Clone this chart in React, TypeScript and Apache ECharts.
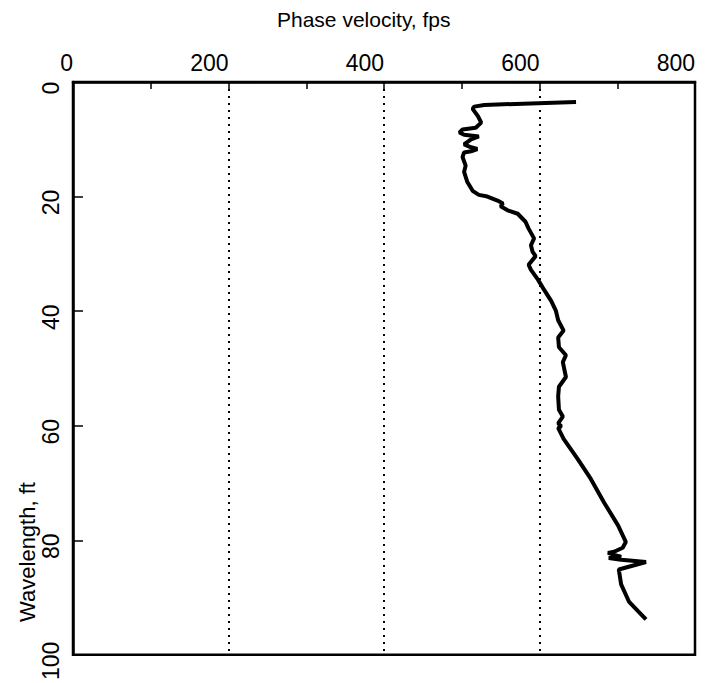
import React, { useEffect, useRef } from "react";
import * as echarts from "echarts";

// Dispersion curve: phase velocity (fps) against wavelength (ft)
const velocityFps: number[] = [
  647, 529, 516, 514, 521, 525, 518, 501, 497, 503, 522, 512, 503, 512, 520, 512,
  503, 501, 505, 503, 507, 514, 522, 533, 546, 553, 550, 559, 572, 582, 586, 593,
  589, 591, 595, 586, 589, 598, 606, 615, 621, 624, 631, 624, 625, 634, 630, 634,
  625, 624, 625, 630, 624, 628, 624, 631, 649, 666, 683, 701, 711, 707, 696, 688,
  705, 689, 705, 737, 702, 705, 715, 727, 737,
];
const wavelengthFt: number[] = [
  3.5, 4.0, 4.3, 4.7, 6.0, 7.1, 8.0, 8.3, 8.8, 9.2, 9.5, 10.0, 10.9, 11.4, 11.7, 12.1,
  12.3, 13.1, 14.6, 15.7, 17.4, 19.0, 19.7, 20.0, 20.7, 21.2, 21.7, 22.4, 23.0, 24.4, 25.6, 27.3,
  28.5, 29.6, 30.4, 31.9, 32.8, 34.5, 36.3, 38.2, 39.9, 41.6, 43.4, 44.6, 46.3, 47.7, 48.9, 51.5,
  53.2, 54.9, 57.2, 58.4, 59.6, 60.1, 60.4, 62.3, 65.8, 69.3, 73.4, 77.4, 80.3, 81.3, 82.0, 82.2,
  82.9, 83.1, 83.4, 83.8, 85.1, 87.7, 90.7, 92.4, 93.8,
];

const xTitle = "Phase velocity, fps";
const yTitle = "Wavelength, ft";
const xRange = [0, 800];
const xStep = 200;
const yRange = [0, 100];
const yStep = 20;

const FONT = "'Liberation Sans', Arial, Helvetica, sans-serif";

export default function App() {
  const ref = useRef<HTMLDivElement>(null);

  useEffect(() => {
    if (!ref.current) return;
    const chart = echarts.init(ref.current, undefined, { renderer: "svg" });
    const points = velocityFps.map((v, i) => [v, wavelengthFt[i]]);

    chart.setOption({
      animation: false,
      backgroundColor: "#fff",
      grid: {
        left: 73,
        top: 82,
        right: 10,
        bottom: 22,
        show: true,
        borderColor: "#000",
        borderWidth: 2.5,
        backgroundColor: "transparent",
      },
      xAxis: {
        type: "value",
        position: "top",
        min: xRange[0],
        max: xRange[1],
        interval: xStep,
        axisLine: { show: true, lineStyle: { color: "#000", width: 2.5 } },
        axisTick: { show: true, inside: true, length: 9, lineStyle: { color: "#000", width: 1.5 } },
        minorTick: { show: true, splitNumber: 2, length: 7, lineStyle: { color: "#000", width: 1.5 } },
        axisLabel: {
          color: "#000",
          fontFamily: FONT,
          fontSize: 23,
          margin: 8,
          align: "right",
        },
        splitLine: {
          show: true,
          showMinLine: false,
          showMaxLine: false,
          lineStyle: { color: "#000", width: 2, type: [2, 5] },
        },
      },
      yAxis: {
        type: "value",
        inverse: true,
        min: yRange[0],
        max: yRange[1],
        interval: yStep,
        axisLine: { show: true, lineStyle: { color: "#000", width: 2.5 } },
        axisTick: { show: true, inside: true, length: 10, lineStyle: { color: "#000", width: 1.5 } },
        axisLabel: {
          color: "#000",
          fontFamily: FONT,
          fontSize: 23,
          rotate: 90,
          margin: 11,
          padding: [0, 12, 0, 0],
        },
        splitLine: { show: false },
      },
      graphic: [
        {
          type: "text",
          left: 277,
          top: 9,
          style: { text: xTitle, fill: "#000", font: `21px ${FONT}` },
        },
        {
          type: "text",
          x: 27,
          y: 552,
          rotation: Math.PI / 2,
          style: {
            text: yTitle,
            fill: "#000",
            font: `22px ${FONT}`,
            align: "center",
            verticalAlign: "middle",
          },
        },
      ],
      series: [
        {
          type: "line",
          data: points,
          showSymbol: false,
          lineStyle: { color: "#000", width: 4 },
        },
      ],
    });

    return () => chart.dispose();
  }, []);

  return (
    <div
      ref={ref}
      style={{ position: "fixed", left: 0, top: 0, width: 705, height: 683 }}
    />
  );
}
